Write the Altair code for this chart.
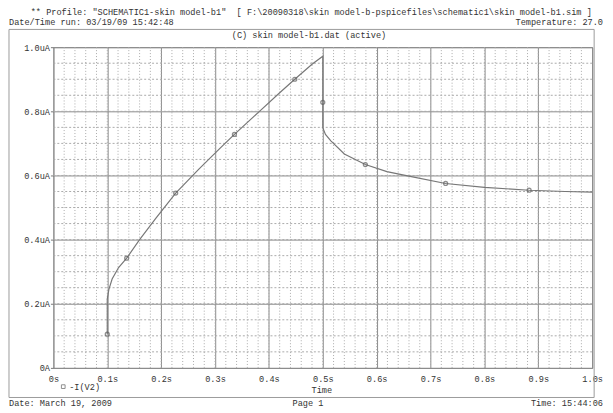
import altair as alt
import pandas as pd

FONT = "Liberation Mono"
FS = 8.7
TXT = "#333333"

# ---- data ----
time_s = [0.1, 0.1, 0.103, 0.109, 0.121, 0.136, 0.16, 0.19, 0.227, 0.27, 0.31,
          0.336, 0.38, 0.42, 0.448, 0.48, 0.5, 0.5, 0.505, 0.515, 0.54, 0.579,
          0.619, 0.662, 0.728, 0.8, 0.883, 0.95, 1.0]
current_uA = [0.105, 0.215, 0.245, 0.277, 0.313, 0.342, 0.40, 0.466, 0.545, 0.62,
              0.686, 0.728, 0.796, 0.858, 0.90, 0.947, 0.972, 0.749, 0.728, 0.708,
              0.667, 0.634, 0.612, 0.597, 0.575, 0.563, 0.554, 0.55, 0.548]
marker_time_s = [0.1, 0.136, 0.227, 0.336, 0.448, 0.5, 0.579, 0.728, 0.883]
marker_current_uA = [0.105, 0.342, 0.545, 0.728, 0.90, 0.828, 0.634, 0.575, 0.554]

x_ticks = [0, 0.1, 0.2, 0.3, 0.4, 0.5, 0.6, 0.7, 0.8, 0.9, 1.0]
y_ticks = [0, 0.2, 0.4, 0.6, 0.8, 1.0]
x_minor = [round(0.02 * i, 2) for i in range(1, 50)]
y_minor = [round(0.05 * i, 2) for i in range(1, 20)]

header1 = '** Profile: "SCHEMATIC1-skin model-b1"\u00a0\u00a0[ F:\\20090318\\skin model-b-pspicefiles\\schematic1\\skin model-b1.sim ]'
header2_left = "Date/Time run: 03/19/09 15:42:48"
header2_right = "Temperature: 27.0"
plot_title = "(C) skin model-b1.dat (active)"
x_title = "Time"
legend_label = "-I(V2)"
footer_left = "Date: March 19, 2009"
footer_mid = "Page 1"
footer_right = "Time: 15:44:06"

W, H = 546, 325

series = pd.DataFrame({"t": time_s, "i": current_uA, "k": list(range(len(time_s)))})
markers = pd.DataFrame({"t": marker_time_s, "i": marker_current_uA})

xs = alt.Scale(domain=[0, 1], nice=False, zero=False)
ys = alt.Scale(domain=[0, 1], nice=False, zero=False)

x_axis = alt.Axis(values=x_ticks, grid=True, gridColor="#8a8a8a", gridWidth=1,
                  tickSize=0, labelPadding=7, domain=False, title=None,
                  labelExpr="datum.value == 0 ? '0s' : format(datum.value, '.1f') + 's'",
                  labelFont=FONT, labelFontSize=FS, labelColor=TXT, labelFlush=False)
y_axis = alt.Axis(values=y_ticks, grid=True, gridColor="#8a8a8a", gridWidth=1,
                  tickSize=3, tickColor="#777", labelPadding=1, domain=False, title=None,
                  labelExpr="datum.value == 0 ? '0A' : format(datum.value, '.1f') + 'uA'",
                  labelFont=FONT, labelFontSize=FS, labelColor=TXT, labelFlush=False)

minor_x = alt.Chart(pd.DataFrame({"v": x_minor})).mark_rule(
    color="#aaaaaa", strokeDash=[1, 2], strokeWidth=1
).encode(x=alt.X("v:Q", scale=xs, axis=x_axis, title=None))

minor_y = alt.Chart(pd.DataFrame({"v": y_minor})).mark_rule(
    color="#aaaaaa", strokeDash=[2, 2], strokeWidth=1
).encode(y=alt.Y("v:Q", scale=ys, axis=y_axis, title=None))

line = alt.Chart(series).mark_line(color="#777777", strokeWidth=1.2).encode(
    x=alt.X("t:Q", scale=xs, axis=x_axis, title=None),
    y=alt.Y("i:Q", scale=ys, axis=y_axis, title=None),
    order="k:Q",
)

pts = alt.Chart(markers).mark_point(shape="circle", size=16, filled=False,
                                    color="#606060", strokeWidth=1.3).encode(
    x=alt.X("t:Q", scale=xs, axis=x_axis, title=None),
    y=alt.Y("i:Q", scale=ys, axis=y_axis, title=None))

one = pd.DataFrame({"a": [0]})

frame = alt.Chart(one).mark_rect(fillOpacity=0, stroke="#9a9a9a", strokeWidth=1).encode(
    x=alt.value(-45), x2=alt.value(548), y=alt.value(-18), y2=alt.value(355))


def label(text, x, y, align="left"):
    return alt.Chart(pd.DataFrame({"s": [text]})).mark_text(
        font=FONT, fontSize=FS, color=TXT, align=align, baseline="middle"
    ).encode(x=alt.value(x), y=alt.value(y), text="s:N")


legend_sym = alt.Chart(one).mark_point(shape="square", size=14, filled=False,
                                       color="#606060", strokeWidth=1).encode(
    x=alt.value(10), y=alt.value(344))

texts = [
    label(header1, -23, -36),
    label(header2_left, -45, -25),
    label(header2_right, 557, -25, "right"),
    label(plot_title, 259, -12, "center"),
    label(x_title, 272, 347, "center"),
    label(legend_label, 16, 344),
    label(footer_left, -45, 361),
    label(footer_mid, 258, 361, "center"),
    label(footer_right, 557, 361, "right"),
]

chart = alt.layer(frame, minor_x, minor_y, line, pts, legend_sym, *texts).properties(
    width=W, height=H,
    autosize=alt.AutoSizeParams(type="none"),
    padding={"left": 46, "top": 37, "right": 13, "bottom": 43},
    background="white",
).configure_view(stroke="#888888", strokeWidth=1)

chart.save("out.html", embed_options={"renderer": "svg", "actions": False})
